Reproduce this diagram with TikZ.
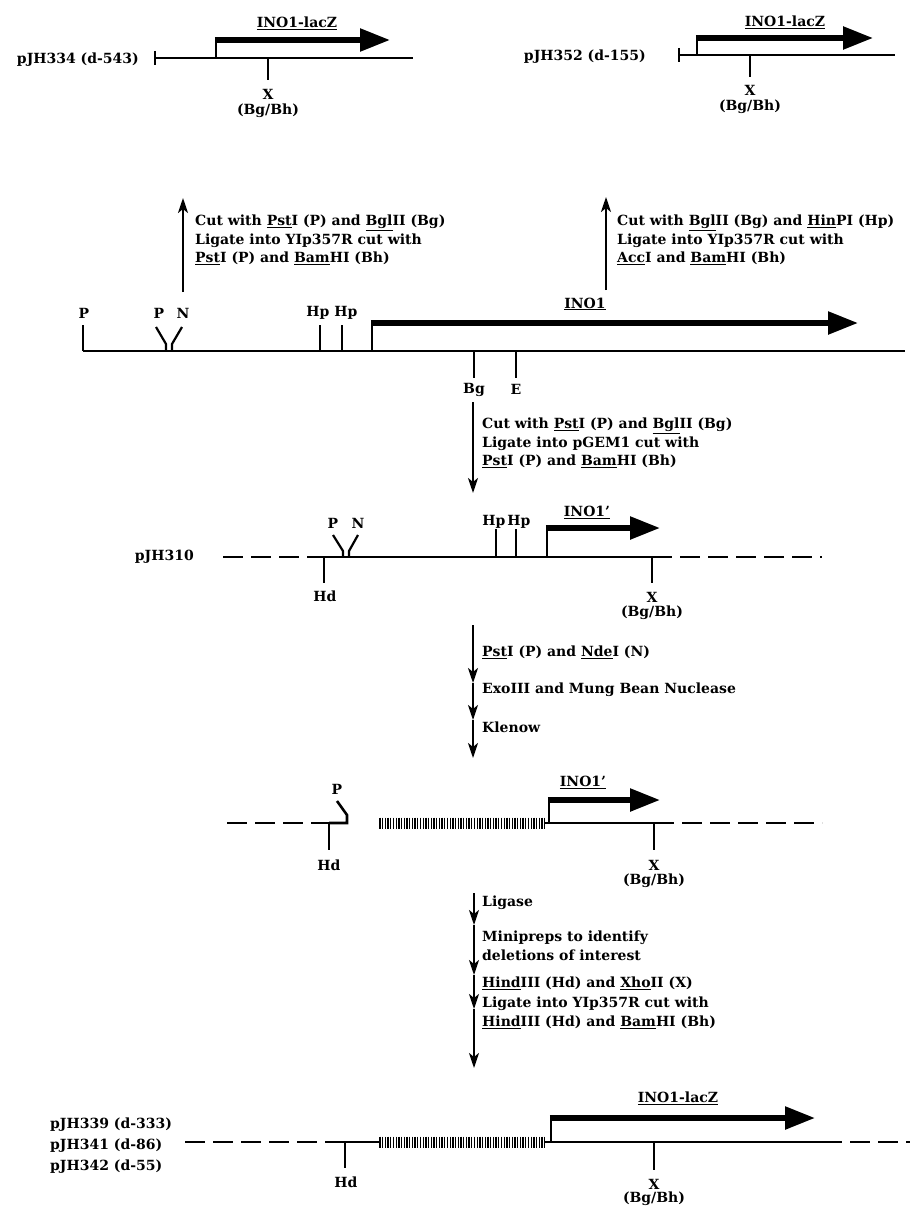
\documentclass[tikz,border=0pt]{standalone}
\usepackage{fontspec}
\setmainfont{DejaVu Serif}
\usetikzlibrary{arrows.meta}
\begin{document}
\begin{tikzpicture}[x=1pt,y=-1pt,
  every node/.style={font=\fontsize{14}{18.5}\selectfont\bfseries, inner sep=0pt},
  dna/.style={line width=2.6pt},
  dnadash/.style={line width=2.6pt, dash pattern=on 20pt off 8pt},
  site/.style={line width=2.2pt},
  gene/.style={line width=5.5pt, -{Triangle[length=30pt,width=22pt]}},
  riser/.style={line width=2.6pt},
  proc/.style={line width=2.2pt, -{Stealth[length=15pt,width=10pt,inset=4pt]}},
  txt/.style={align=left, anchor=west},
  hatchline/.style={line width=1.3pt},
]
\useasboundingbox (0,0) rectangle (910,1207);

% ---------- top left: pJH334 ----------
\node[anchor=east] (l334) at (139,60) {pJH334 (d-543)};
\draw[dna] (155,58) -- (413,58);
\draw[site] (155,51) -- (155,65);
\draw[riser] (216,58) -- (216,38.5);
\draw[gene] (214.8,40) -- (390,40);
\node (g334) at (297,23) {\underline{INO1-lacZ}};
\draw[site] (268,58) -- (268,80);
\node (x334) at (268,94) {X};
\node (b334) at (268,111) {(Bg/Bh)};

% ---------- top right: pJH352 ----------
\node[anchor=east] (l352) at (646,57) {pJH352 (d-155)};
\draw[dna] (679,55) -- (895,55);
\draw[site] (679,48) -- (679,62);
\draw[riser] (697,55) -- (697,36.5);
\draw[gene] (695.8,38) -- (873,38);
\node (g352) at (785,22) {\underline{INO1-lacZ}};
\draw[site] (750,55) -- (750,77);
\node (x352) at (750,90) {X};
\node (b352) at (750,107) {(Bg/Bh)};

% ---------- upward process arrows ----------
\coordinate (u1a) at (183,292); \coordinate (u1b) at (183,198);
\draw[proc] (u1a) -- (u1b);
\node[txt] (t1) at (195,240) {Cut with \underline{Pst}I (P) and \underline{Bgl}II (Bg)\\Ligate into YIp357R cut with\\\underline{Pst}I (P) and \underline{Bam}HI (Bh)};
\coordinate (u2a) at (606,290); \coordinate (u2b) at (606,197);
\draw[proc] (u2a) -- (u2b);
\node[txt] (t2) at (617,240) {Cut with \underline{Bgl}II (Bg) and \underline{Hin}PI (Hp)\\Ligate into YIp357R cut with\\\underline{Acc}I and \underline{Bam}HI (Bh)};

% ---------- genomic INO1 ----------
\draw[dna] (83,351) -- (905,351);
\draw[site] (83,351) -- (83,325);
\node (p0) at (84,313) {P};
\draw[site] (156,327) -- (166,344) -- (166,351);
\draw[site] (182,327) -- (172,344) -- (172,351);
\node (p1) at (159,313) {P};
\node (n1) at (183,313) {N};
\draw[site] (320,351) -- (320,325);
\draw[site] (342,351) -- (342,325);
\node (hp1) at (318,313) {Hp};
\node (hp2) at (346,313) {Hp};
\draw[riser] (372,351) -- (372,321);
\draw[gene] (370.8,323) -- (858,323);
\node (ino1) at (585,304) {\underline{INO1}};
\draw[site] (474,351) -- (474,378);
\node (bg1) at (474,390) {Bg};
\draw[site] (516,351) -- (516,378);
\node (e1) at (516,389) {E};

% ---------- down arrow 1 ----------
\coordinate (d1a) at (473,402); \coordinate (d1b) at (473,493);
\draw[proc] (d1a) -- (d1b);
\node[txt] (t3) at (482,443) {Cut with \underline{Pst}I (P) and \underline{Bgl}II (Bg)\\Ligate into pGEM1 cut with\\\underline{Pst}I (P) and \underline{Bam}HI (Bh)};

% ---------- pJH310 ----------
\node[anchor=east] (l310) at (194,557) {pJH310};
\draw[dnadash] (223,557) -- (324,557);
\draw[dna] (324,557) -- (652,557);
\draw[dnadash] (652,557) -- (822,557);
\draw[site] (324,557) -- (324,583);
\node (hd2) at (325,596) {Hd};
\draw[site] (333,535) -- (343,551) -- (343,557);
\draw[site] (358,535) -- (349,551) -- (349,557);
\node (p2) at (333,523) {P};
\node (n2) at (358,523) {N};
\draw[site] (496,557) -- (496,529);
\draw[site] (516,557) -- (516,529);
\node (hp3) at (494,522) {Hp};
\node (hp4) at (519,522) {Hp};
\draw[riser] (547,557) -- (547,526);
\draw[gene] (545.8,528) -- (660,528);
\node (ino2) at (587,512) {\underline{INO1'}};
\draw[site] (652,557) -- (652,583);
\node (x2) at (652,597) {X};
\node (b2) at (652,613) {(Bg/Bh)};

% ---------- down arrows 2 ----------
\coordinate (s1) at (473,625); \coordinate (s2) at (473,683);
\coordinate (s3) at (473,720); \coordinate (s4) at (473,758);
\draw[proc] (s1) -- (s2);
\draw[proc] (s2) -- (s3);
\draw[proc] (s3) -- (s4);
\node[anchor=west] (t4) at (482,652) {\underline{Pst}I (P) and \underline{Nde}I (N)};
\node[anchor=west] (t5) at (482,690) {ExoIII and Mung Bean Nuclease};
\node[anchor=west] (t6) at (482,727) {Klenow};

% ---------- deletion intermediate ----------
\draw[dnadash] (227,823) -- (329,823);
\draw[dna] (329,823) -- (347,823) -- (347,815) -- (337,801);
\node (p3) at (337,789) {P};
\draw[site] (329,823) -- (329,850);
\node (hd3) at (329,865) {Hd};
\foreach \hx in {380,382.7,...,545} \draw[hatchline] (\hx,817.5) -- (\hx,828.5);
\draw[dna] (545,823) -- (654,823);
\draw[dnadash] (654,823) -- (822,823);
\draw[riser] (549,823) -- (549,798);
\draw[gene] (547.8,800) -- (660,800);
\node (ino3) at (583,782) {\underline{INO1'}};
\draw[site] (654,823) -- (654,850);
\node (x3) at (654,865) {X};
\node (b3) at (654,881) {(Bg/Bh)};

% ---------- down arrows 3 ----------
\coordinate (r1) at (474,893); \coordinate (r2) at (474,925);
\coordinate (r3) at (474,975); \coordinate (r4) at (474,1009);
\coordinate (r5) at (474,1068);
\draw[proc] (r1) -- (r2);
\draw[proc] (r2) -- (r3);
\draw[proc] (r3) -- (r4);
\draw[proc] (r4) -- (r5);
\node[anchor=west] (t7) at (482,903) {Ligase};
\node[txt] (t8) at (482,946) {Minipreps to identify\\deletions of interest};
\node[anchor=west] (t9) at (482,983) {\underline{Hind}III (Hd) and \underline{Xho}II (X)};
\node[txt] (t10) at (482,1013) {Ligate into YIp357R cut with\\\underline{Hind}III (Hd) and \underline{Bam}HI (Bh)};

% ---------- final constructs ----------
\node[anchor=west] (l339) at (50,1125) {pJH339 (d-333)};
\node[anchor=west] (l341) at (50,1146) {pJH341 (d-86)};
\node[anchor=west] (l342) at (50,1167) {pJH342 (d-55)};
\draw[dnadash] (185,1142) -- (343,1142);
\draw[dna] (343,1142) -- (380,1142);
\foreach \hx in {380,382.7,...,545} \draw[hatchline] (\hx,1136.5) -- (\hx,1147.5);
\draw[dna] (545,1142) -- (822,1142);
\draw[dnadash] (822,1142) -- (910,1142);
\draw[site] (345,1142) -- (345,1168);
\node (hd4) at (346,1182) {Hd};
\draw[riser] (551,1142) -- (551,1116);
\draw[gene] (549.8,1118) -- (815,1118);
\node (ino4) at (678,1098) {\underline{INO1-lacZ}};
\draw[site] (654,1142) -- (654,1170);
\node (x4) at (654,1184) {X};
\node (b4) at (654,1199) {(Bg/Bh)};
\end{tikzpicture}
\end{document}
